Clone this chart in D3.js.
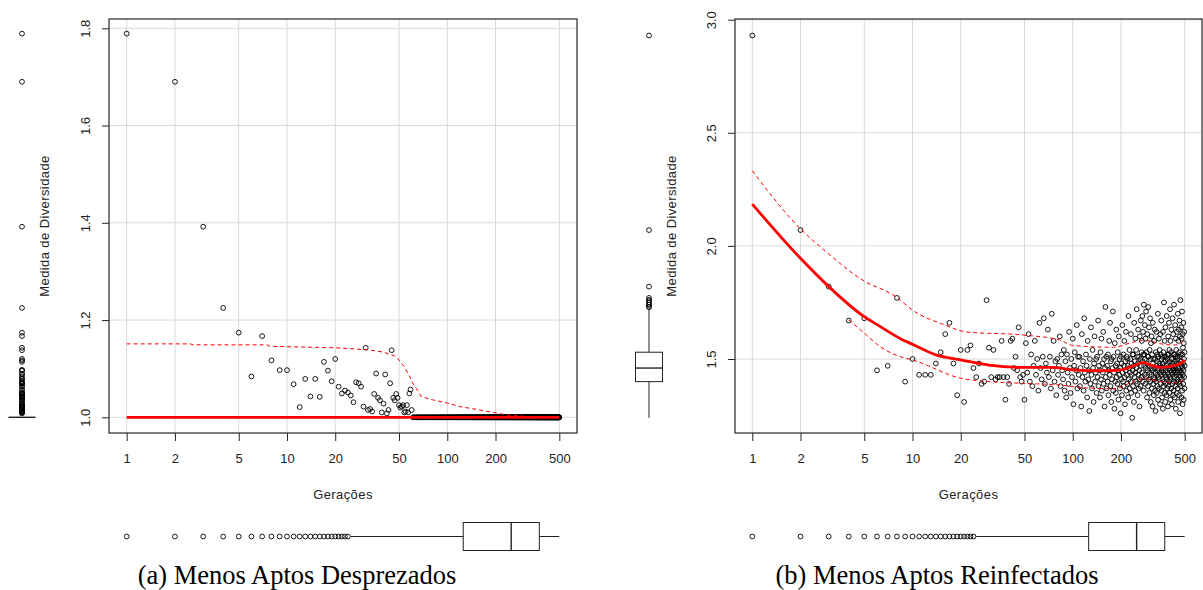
<!DOCTYPE html>
<html>
<head>
<meta charset="utf-8">
<script src="https://cdn.jsdelivr.net/npm/d3@7"></script>
<style>
  body { margin: 0; background: #fff; }
  svg { display: block; font-family: "Liberation Sans", Arial, sans-serif; }
</style>
</head>
<body>
<div id="vis"></div>
<script>
const WIDTH = 1203;
const HEIGHT = 590;

// ---- data ----
const X_TICKS = [1, 2, 5, 10, 20, 50, 100, 200, 500];
const Y_TICKS_A = [1.0, 1.2, 1.4, 1.6, 1.8];
const Y_TICKS_B = [1.5, 2.0, 2.5, 3.0];
const GENERATIONS = d3.range(1, 501);

// (a) diversity, generations 1..60 read one by one
const DIV_A_HEAD = [
  1.789, 1.690, 1.392, 1.225, 1.174, 1.084, 1.167, 1.117, 1.097, 1.097,
  1.068, 1.021, 1.079, 1.043, 1.079, 1.042, 1.114, 1.096, 1.074, 1.120,
  1.063, 1.049, 1.055, 1.051, 1.045, 1.031, 1.072, 1.070, 1.063, 1.022,
  1.143, 1.015, 1.017, 1.012, 1.048, 1.090, 1.040, 1.035, 1.010, 1.028,
  1.088, 1.008, 1.015, 1.070, 1.138, 1.040, 1.035, 1.048, 1.040, 1.025,
  1.020, 1.022, 1.025, 1.010, 1.012, 1.025, 1.010, 1.049, 1.057, 1.015
];
// from generation 61 on, every point sits on 1.0
const DIV_A_FLAT = 1.0;

// (a) smoother and spread lines: [generation, value]
const SMOOTH_A = [[1, 1.0], [500, 1.0]];
const UPPER_A = [
  [1, 1.151], [2.5, 1.151], [2.6, 1.149], [7.5, 1.149], [7.8, 1.146], [20, 1.143],
  [32, 1.139], [40, 1.134], [48, 1.125], [54, 1.104], [57, 1.09], [61, 1.07],
  [69, 1.042], [81, 1.036], [104, 1.028], [120, 1.022], [160, 1.015], [193, 1.01],
  [235, 1.005], [300, 1.002]
];

// (b) diversity, generations 1..49
const DIV_B_HEAD = [
  2.93, 2.07, 1.82, 1.67, 1.68, 1.45, 1.47, 1.77, 1.40, 1.50,
  1.43, 1.43, 1.43, 1.48, 1.53, 1.61, 1.66, 1.48, 1.34, 1.54,
  1.31, 1.54, 1.56, 1.46, 1.42, 1.48, 1.39, 1.40, 1.76, 1.55,
  1.42, 1.54, 1.41, 1.42, 1.42, 1.58, 1.42, 1.32, 1.42, 1.39,
  1.58, 1.59, 1.46, 1.51, 1.45, 1.64, 1.42, 1.40, 1.43
];
// (b) diversity, generations 50..500
const DIV_B_TAIL = [
  1.32, 1.57, 1.44, 1.61, 1.40, 1.52, 1.38, 1.47, 1.58, 1.43, 1.50, 1.36, 1.66, 1.46, 1.41, 1.51, 1.68, 1.39, 1.48, 1.44,
  1.63, 1.42, 1.51, 1.37, 1.70, 1.45, 1.58, 1.40, 1.49, 1.34, 1.50, 1.43, 1.47, 1.60, 1.38, 1.52, 1.45, 1.41, 1.54, 1.36,
  1.49, 1.33, 1.52, 1.44, 1.39, 1.62, 1.46, 1.35, 1.50, 1.42, 1.59, 1.30, 1.47, 1.53, 1.40, 1.45, 1.65, 1.37, 1.51, 1.43,
  1.51, 1.38, 1.46, 1.29, 1.61, 1.42, 1.49, 1.36, 1.68, 1.44, 1.40, 1.52, 1.47, 1.33, 1.58, 1.41, 1.45, 1.27, 1.50, 1.39,
  1.64, 1.43, 1.37, 1.54, 1.46, 1.31, 1.48, 1.60, 1.40, 1.44, 1.50, 1.35, 1.51, 1.42, 1.67, 1.38, 1.47, 1.45, 1.33, 1.53,
  1.41, 1.59, 1.36, 1.48, 1.44, 1.62, 1.39, 1.50, 1.29, 1.46, 1.73, 1.42, 1.51, 1.37, 1.47, 1.40, 1.52, 1.34, 1.45, 1.58,
  1.43, 1.66, 1.38, 1.49, 1.31, 1.50, 1.41, 1.46, 1.71, 1.36, 1.51, 1.44, 1.28, 1.57, 1.40, 1.47, 1.35, 1.63, 1.42, 1.48,
  1.39, 1.53, 1.45, 1.32, 1.60, 1.43, 1.50, 1.37, 1.46, 1.26, 1.51, 1.41, 1.48, 1.34, 1.65, 1.44, 1.40, 1.52, 1.38, 1.47,
  1.58, 1.42, 1.30, 1.49, 1.45, 1.62, 1.36, 1.51, 1.43, 1.39, 1.50, 1.47, 1.33, 1.69, 1.41, 1.46, 1.54, 1.37, 1.44, 1.50,
  1.40, 1.61, 1.35, 1.48, 1.43, 1.24, 1.52, 1.45, 1.38, 1.52, 1.47, 1.31, 1.66, 1.42, 1.49, 1.36, 1.59, 1.44, 1.40, 1.54,
  1.46, 1.72, 1.39, 1.51, 1.34, 1.48, 1.63, 1.43, 1.37, 1.51, 1.45, 1.29, 1.60, 1.41, 1.50, 1.38, 1.67, 1.47, 1.42, 1.53,
  1.58, 1.44, 1.69, 1.49, 1.40, 1.62, 1.52, 1.36, 1.74, 1.47, 1.52, 1.43, 1.65, 1.50, 1.39, 1.59, 1.46, 1.71, 1.42, 1.53,
  1.48, 1.33, 1.61, 1.45, 1.51, 1.38, 1.73, 1.51, 1.41, 1.64, 1.47, 1.35, 1.54, 1.44, 1.68, 1.40, 1.50, 1.31, 1.57, 1.46,
  1.43, 1.60, 1.37, 1.52, 1.45, 1.29, 1.66, 1.48, 1.39, 1.50, 1.42, 1.34, 1.58, 1.46, 1.41, 1.63, 1.36, 1.50, 1.44, 1.27,
  1.53, 1.40, 1.47, 1.62, 1.35, 1.49, 1.43, 1.52, 1.38, 1.45, 1.70, 1.32, 1.51, 1.42, 1.46, 1.59, 1.37, 1.48, 1.41, 1.54,
  1.44, 1.30, 1.61, 1.47, 1.39, 1.52, 1.43, 1.67, 1.36, 1.50, 1.45, 1.33, 1.51, 1.41, 1.48, 1.28, 1.62, 1.44, 1.38, 1.53,
  1.46, 1.75, 1.40, 1.51, 1.35, 1.58, 1.43, 1.49, 1.31, 1.64, 1.45, 1.39, 1.51, 1.42, 1.47, 1.34, 1.69, 1.41, 1.50, 1.37,
  1.52, 1.44, 1.48, 1.29, 1.60, 1.43, 1.52, 1.38, 1.46, 1.66, 1.40, 1.54, 1.35, 1.49, 1.42, 1.72, 1.45, 1.32, 1.58, 1.47,
  1.41, 1.53, 1.37, 1.63, 1.44, 1.50, 1.30, 1.50, 1.46, 1.39, 1.68, 1.43, 1.48, 1.34, 1.61, 1.45, 1.40, 1.52, 1.36, 1.74,
  1.47, 1.42, 1.52, 1.33, 1.49, 1.44, 1.65, 1.38, 1.51, 1.46, 1.28, 1.59, 1.43, 1.54, 1.40, 1.48, 1.35, 1.62, 1.45, 1.41,
  1.51, 1.37, 1.50, 1.70, 1.44, 1.31, 1.58, 1.46, 1.40, 1.63, 1.48, 1.34, 1.53, 1.43, 1.67, 1.39, 1.51, 1.26, 1.60, 1.45,
  1.76, 1.42, 1.52, 1.38, 1.49, 1.64, 1.44, 1.33, 1.59, 1.47, 1.41, 1.71, 1.36, 1.52, 1.46, 1.30, 1.61, 1.43, 1.55, 1.48,
  1.39, 1.66, 1.45, 1.32, 1.57, 1.50, 1.42, 1.62, 1.37, 1.53, 1.47
];

// (b) smoother and spread lines: [generation, value]
const SMOOTH_B = [
  [1, 2.185], [2, 1.945], [3, 1.82], [5, 1.687], [6.3, 1.643], [8.4, 1.59], [10, 1.565],
  [14, 1.518], [20, 1.496], [30, 1.473], [50, 1.463], [75, 1.463], [100, 1.452],
  [150, 1.448], [197, 1.451], [240, 1.47], [273, 1.484], [310, 1.472], [350, 1.463],
  [420, 1.469], [470, 1.48], [500, 1.496]
];
const UPPER_B = [
  [1, 2.332], [2, 2.075], [2.9, 1.973], [4.9, 1.848], [7.9, 1.775], [10, 1.716],
  [16, 1.65], [21.5, 1.62], [49, 1.606], [83, 1.584], [100, 1.56], [180, 1.552],
  [240, 1.575], [280, 1.582], [370, 1.565], [440, 1.562], [500, 1.584]
];
const LOWER_B = [
  [4, 1.673], [4.9, 1.62], [6.3, 1.554], [8.4, 1.51], [10, 1.496], [20, 1.415],
  [30, 1.40], [50, 1.392], [83, 1.385], [100, 1.378], [180, 1.368], [240, 1.40],
  [280, 1.413], [370, 1.398], [440, 1.395], [500, 1.41]
];

const CAPTIONS = ["(a) Menos Aptos Desprezados", "(b) Menos Aptos Reinfectados"];

// ---- frame ----
const SVG = d3.select("#vis")
              .append("svg")
                .attr("width", WIDTH)
                .attr("height", HEIGHT);

const RED = "#ff0000";
const R_PT = 2.4;

// five-number summary with 1.5 IQR whiskers, like R boxplot
function boxStats(values) {
  const v = values.slice().sort(d3.ascending);
  const q1 = d3.quantile(v, 0.25), med = d3.quantile(v, 0.5), q3 = d3.quantile(v, 0.75);
  const iqr = q3 - q1;
  const inside = v.filter(d => d >= q1 - 1.5 * iqr && d <= q3 + 1.5 * iqr);
  return {
    q1: q1, med: med, q3: q3,
    lo: d3.min(inside), hi: d3.max(inside),
    out: v.filter(d => d < q1 - 1.5 * iqr || d > q3 + 1.5 * iqr)
  };
}

function drawPanel(cfg) {
  const g = SVG.append("g");
  const box = cfg.box;

  const X_SCALE = d3.scaleLog().domain([1, 500]).range(cfg.xRange);
  const Y_SCALE = d3.scaleLinear().domain(cfg.yDomain).range(cfg.yRange);

  // grid
  g.selectAll(".vgrid").data(X_TICKS).enter().append("line")
    .attr("x1", d => X_SCALE(d)).attr("x2", d => X_SCALE(d))
    .attr("y1", box.top).attr("y2", box.bottom)
    .attr("stroke", "#d9d9d9").attr("stroke-width", 1);
  g.selectAll(".hgrid").data(cfg.yTicks).enter().append("line")
    .attr("x1", box.left).attr("x2", box.right)
    .attr("y1", d => Y_SCALE(d)).attr("y2", d => Y_SCALE(d))
    .attr("stroke", "#d9d9d9").attr("stroke-width", 1);

  // points
  g.selectAll(".pt").data(cfg.points).enter().append("circle")
    .attr("cx", d => X_SCALE(d[0]))
    .attr("cy", d => Y_SCALE(d[1]))
    .attr("r", R_PT)
    .attr("fill", "none")
    .attr("stroke", "#000")
    .attr("stroke-width", 0.9);

  // smoother and spread lines
  const line = d3.line()
    .x(d => X_SCALE(d[0]))
    .y(d => Y_SCALE(d[1]))
    .curve(cfg.curve);
  cfg.spread.forEach(s => {
    g.append("path").attr("d", line(s))
      .attr("fill", "none").attr("stroke", RED)
      .attr("stroke-width", 1).attr("stroke-dasharray", "4,3");
  });
  g.append("path").attr("d", line(cfg.smooth))
    .attr("fill", "none").attr("stroke", RED).attr("stroke-width", 2.8);

  // frame
  g.append("rect")
    .attr("x", box.left).attr("y", box.top)
    .attr("width", box.right - box.left).attr("height", box.bottom - box.top)
    .attr("fill", "none").attr("stroke", "#262626").attr("stroke-width", 1.2);

  // x axis
  const xAxis = g.append("g")
    .attr("transform", "translate(0," + box.bottom + ")")
    .call(d3.axisBottom(X_SCALE).tickValues(X_TICKS).tickFormat(d3.format("d"))
          .tickSize(8).tickPadding(13));
  xAxis.select(".domain").remove();
  xAxis.selectAll("line").attr("stroke", "#262626");
  xAxis.selectAll("text").attr("font-size", 13).attr("fill", "#222")
    .attr("font-family", "Liberation Sans, Arial, sans-serif");

  // y axis, labels parallel to the axis
  const yAxis = g.append("g")
    .attr("transform", "translate(" + box.left + ",0)")
    .call(d3.axisLeft(Y_SCALE).tickValues(cfg.yTicks).tickFormat(d3.format(".1f"))
          .tickSize(7));
  yAxis.select(".domain").remove();
  yAxis.selectAll("line").attr("stroke", "#262626");
  yAxis.selectAll("text")
    .attr("x", null).attr("dy", null)
    .attr("transform", "translate(-19,0) rotate(-90)")
    .attr("text-anchor", "middle")
    .attr("font-size", 13).attr("fill", "#222")
    .attr("font-family", "Liberation Sans, Arial, sans-serif");

  // axis titles
  g.append("text")
    .attr("x", (box.left + box.right) / 2).attr("y", 499)
    .attr("text-anchor", "middle").attr("font-size", 13).attr("fill", "#222")
    .attr("letter-spacing", 0.4)
    .text("Gerações");
  g.append("text")
    .attr("transform", "translate(" + cfg.yTitleX + "," + ((box.top + box.bottom) / 2) + ") rotate(-90)")
    .attr("text-anchor", "middle").attr("font-size", 13).attr("fill", "#222")
    .attr("letter-spacing", 0.4)
    .text("Medida de Diversidade");

  // marginal boxplot of the diversity values (left)
  const ys = boxStats(cfg.points.map(d => d[1]));
  const bx = cfg.yBoxX, hw = 13.5;
  g.append("line").attr("x1", bx).attr("x2", bx)
    .attr("y1", Y_SCALE(ys.hi)).attr("y2", Y_SCALE(ys.q3)).attr("stroke", "#222");
  g.append("line").attr("x1", bx).attr("x2", bx)
    .attr("y1", Y_SCALE(ys.q1)).attr("y2", Y_SCALE(ys.lo)).attr("stroke", "#222");
  g.append("rect")
    .attr("x", bx - hw).attr("width", 2 * hw)
    .attr("y", Y_SCALE(ys.q3)).attr("height", Y_SCALE(ys.q1) - Y_SCALE(ys.q3))
    .attr("fill", "none").attr("stroke", "#222");
  g.append("line").attr("x1", bx - hw).attr("x2", bx + hw)
    .attr("y1", Y_SCALE(ys.med)).attr("y2", Y_SCALE(ys.med))
    .attr("stroke", "#222").attr("stroke-width", 1.4);
  g.selectAll(".yout").data(ys.out).enter().append("circle")
    .attr("cx", bx).attr("cy", d => Y_SCALE(d)).attr("r", R_PT)
    .attr("fill", "none").attr("stroke", "#000").attr("stroke-width", 0.9);

  // marginal boxplot of generations (bottom), on the log scale
  const xs = boxStats(cfg.points.map(d => Math.log10(d[0])));
  const px = v => X_SCALE(Math.pow(10, v));
  const by = 536.5, hh = 14;
  g.append("line").attr("x1", px(xs.lo)).attr("x2", px(xs.q1))
    .attr("y1", by).attr("y2", by).attr("stroke", "#222");
  g.append("line").attr("x1", px(xs.q3)).attr("x2", px(xs.hi))
    .attr("y1", by).attr("y2", by).attr("stroke", "#222");
  g.append("rect")
    .attr("x", px(xs.q1)).attr("width", px(xs.q3) - px(xs.q1))
    .attr("y", by - hh).attr("height", 2 * hh)
    .attr("fill", "none").attr("stroke", "#222");
  g.append("line").attr("x1", px(xs.med)).attr("x2", px(xs.med))
    .attr("y1", by - hh).attr("y2", by + hh)
    .attr("stroke", "#222").attr("stroke-width", 1.4);
  g.selectAll(".xout").data(xs.out).enter().append("circle")
    .attr("cx", d => px(d)).attr("cy", by).attr("r", R_PT)
    .attr("fill", "none").attr("stroke", "#000").attr("stroke-width", 0.9);

  // caption
  g.append("text")
    .attr("x", cfg.captionX).attr("y", 584)
    .attr("text-anchor", "middle")
    .attr("font-family", "Liberation Serif, 'DejaVu Serif', serif")
    .attr("font-size", 26.5).attr("fill", "#000")
    .text(cfg.caption);
}

// build point lists from the arrays
const POINTS_A = GENERATIONS.map((gen, i) => [gen, i < DIV_A_HEAD.length ? DIV_A_HEAD[i] : DIV_A_FLAT]);
const DIV_B = DIV_B_HEAD.concat(DIV_B_TAIL);
const POINTS_B = GENERATIONS.map((gen, i) => [gen, DIV_B[i]]);

drawPanel({
  box: {left: 109, right: 577, top: 19, bottom: 433},
  xRange: [126.7, 559.3],
  yDomain: [1.0, 1.8], yRange: [417.3, 28.3],
  yTicks: Y_TICKS_A,
  points: POINTS_A,
  smooth: SMOOTH_A, spread: [UPPER_A], curve: d3.curveLinear,
  yTitleX: 49, yBoxX: 22,
  caption: CAPTIONS[0], captionX: 297
});

drawPanel({
  box: {left: 735, right: 1202, top: 19, bottom: 433},
  xRange: [752.3, 1184.7],
  yDomain: [1.5, 3.0], yRange: [359, 19.7],
  yTicks: Y_TICKS_B,
  points: POINTS_B,
  smooth: SMOOTH_B, spread: [UPPER_B, LOWER_B], curve: d3.curveMonotoneX,
  yTitleX: 676, yBoxX: 649,
  caption: CAPTIONS[1], captionX: 937
});
</script>
</body>
</html>
